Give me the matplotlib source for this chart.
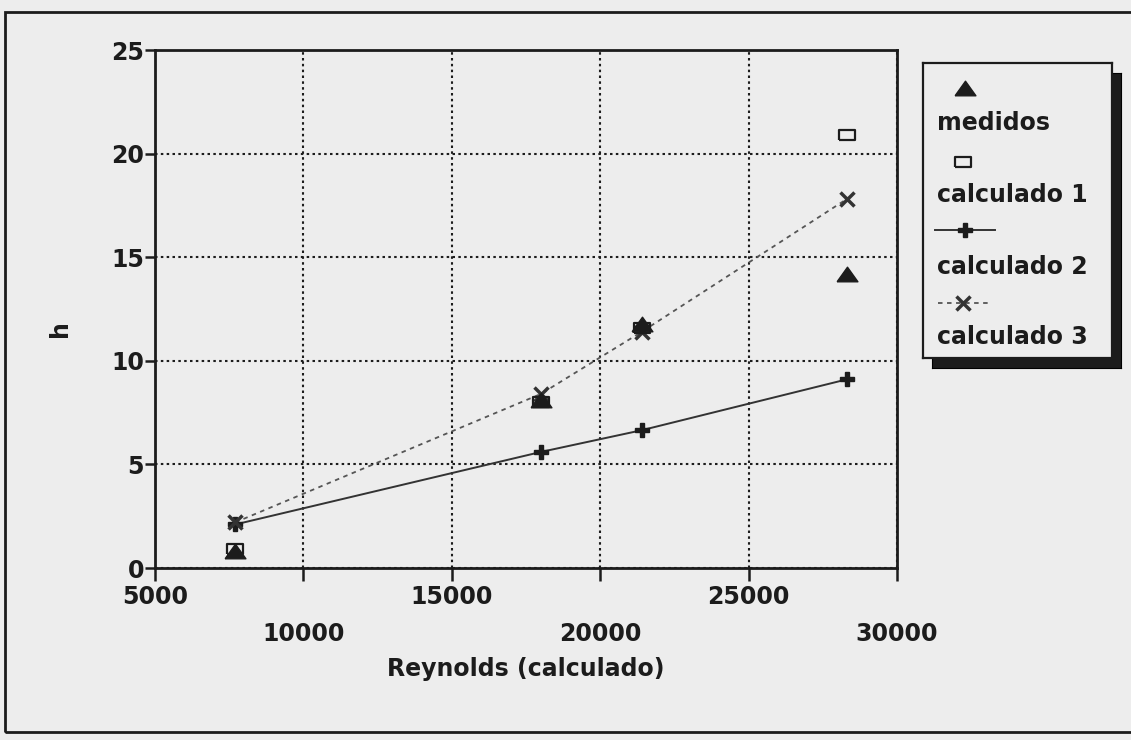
import matplotlib
matplotlib.use("Agg")
import matplotlib.pyplot as plt
from matplotlib.patches import Rectangle

# values
reynolds = [7700, 18000, 21400, 28300]
medidos = [0.8, 8.1, 11.8, 14.2]
calculado1 = [0.9, 8.0, 11.6, 20.9]
calculado2 = [2.1, 5.6, 6.65, 9.1]
calculado3 = [2.2, 8.4, 11.4, 17.8]

x_ticks = [5000, 10000, 15000, 20000, 25000, 30000]
y_ticks = [0, 5, 10, 15, 20, 25]
series_names = ["medidos", "calculado 1", "calculado 2", "calculado 3"]

W, H = 1131, 740
BG = "#ededed"
INK = "#1c1c1c"

plt.rcParams['font.family'] = ['DejaVu Sans']
plt.rcParams['font.weight'] = 'bold'
plt.rcParams['axes.labelweight'] = 'bold'
plt.rcParams['font.size'] = 17

tri = [(-1, -0.7), (1, -0.7), (0, 0.7), (-1, -0.7)]
rect = [(-1, -0.55), (1, -0.55), (1, 0.55), (-1, 0.55), (-1, -0.55)]

fig = plt.figure(figsize=(W / 100, H / 100), dpi=100, facecolor=BG)

# outer frame of the scanned figure
fig.add_artist(Rectangle((5 / W, 1 - 732 / H), 1.2, (732 - 12) / H,
                         transform=fig.transFigure, fill=False,
                         lw=2, ec=INK))

ax = fig.add_axes([155 / W, 1 - 568 / H, (897 - 155) / W, (568 - 50) / H],
                  facecolor=BG)

ax.plot(reynolds, calculado2, color="#333333", lw=1.4, marker="P", ms=10,
        mfc=INK, mec=INK, zorder=3)
ax.plot(reynolds, calculado3, color="#555555", lw=1.3, ls=(0, (2.5, 2.5)),
        marker="x", ms=10, mew=2.5, mec="#333333", zorder=3)
ax.plot(reynolds, calculado1, ls="none", marker=rect, ms=12, mfc="none",
        mec=INK, mew=1.6, zorder=4)
ax.plot(reynolds, medidos, ls="none", marker=tri, ms=15, color=INK, zorder=5)

ax.set_xlim(5000, 30000)
ax.set_ylim(0, 25)
ax.set_xticks(x_ticks)
ax.set_yticks(y_ticks)
ax.set_xticklabels([str(v) for v in x_ticks])
ax.set_yticklabels([str(v) for v in y_ticks])
ax.grid(True, color=INK, lw=1.5, ls=(0, (1.2, 1.6)))
ax.set_axisbelow(True)
for s in ax.spines.values():
    s.set_linewidth(2)
    s.set_color(INK)
ax.tick_params(axis="x", direction="out", length=9, width=1.8, colors=INK)
ax.tick_params(axis="y", direction="out", length=7, width=1.8, colors=INK, pad=1)
for i, t in enumerate(ax.xaxis.get_major_ticks()):
    t.set_pad(3 if i % 2 == 0 else 30)

ax.set_xlabel("Reynolds (calculado)", labelpad=8, color=INK)
fig.text(60 / W, 1 - 329 / H, "h", rotation=90, ha="center", va="center",
         color=INK)

# legend box with drop shadow, marker drawn above each label
lx0, lx1, ly0, ly1 = 923, 1112, 63, 358
shadow = fig.add_axes([(lx0 + 9) / W, 1 - (ly1 + 10) / H,
                       (lx1 - lx0) / W, (ly1 - ly0) / H], facecolor=INK)
shadow.set_xticks([])
shadow.set_yticks([])
lax = fig.add_axes([lx0 / W, 1 - ly1 / H, (lx1 - lx0) / W, (ly1 - ly0) / H],
                   facecolor=BG)
lax.set_xlim(lx0, lx1)
lax.set_ylim(ly1, ly0)
lax.set_xticks([])
lax.set_yticks([])
for s in lax.spines.values():
    s.set_linewidth(1.6)
    s.set_color(INK)

lax.plot([965], [88], ls="none", marker=tri, ms=15, color=INK)
lax.plot([963], [162], ls="none", marker=rect, ms=12, mfc="none", mec=INK, mew=1.6)
lax.plot([935, 995], [230, 230], color="#333333", lw=1.4)
lax.plot([965], [230], marker="P", ms=10, mfc=INK, mec=INK)
lax.plot([938, 992], [303, 303], color="#555555", lw=1.3, ls=(0, (2.5, 2.5)))
lax.plot([963], [303], marker="x", ms=10, mew=2.5, mec="#333333")
for name, ypos in zip(series_names, [123, 195, 267, 337]):
    lax.text(937, ypos, name, ha="left", va="center", color=INK)

fig.savefig("out.png", dpi=100, facecolor=BG)
